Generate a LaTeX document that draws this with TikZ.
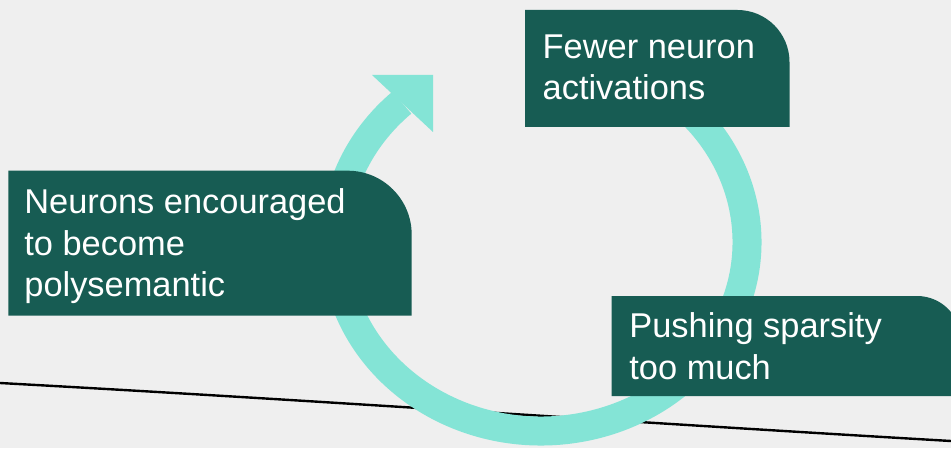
\documentclass[tikz,border=0pt]{standalone}
\usepackage{fontspec}
\setmainfont{Liberation Sans}
\usepackage{tikz}
\usetikzlibrary{positioning, calc}
\definecolor{paper}{HTML}{EFEFEF}
\definecolor{boxgreen}{HTML}{175C53}
\definecolor{ringteal}{HTML}{84E4D6}
\tikzset{box/.style={fill=boxgreen}, box text/.style={text=white, align=left, anchor=base west, inner sep=0pt, font=\fontsize{34.4}{41.5}\selectfont}, ring/.style={draw=ringteal, line width=29pt}, ground line/.style={draw=black, line width=2.4pt}}

\begin{document}
\begin{tikzpicture}[x=1pt, y=1pt]
	\fill[paper] (0,0) rectangle (951,448);
	\useasboundingbox (0,0) rectangle (951,448);
	% thin line across the bottom
	\draw[ground line] (0,65) .. controls (317,47.6) and (634,25.4) .. (951,7);
	% the loop with its head
	\coordinate (ringc) at (541,206);
	\draw[ring] ([shift={(60:206 and 189)}]ringc) arc[start angle=60, end angle=-227.5, x radius=206, y radius=189];
	\coordinate (head tip) at (433,373);
	\fill[ringteal] (372,373) -- (head tip) -- (433,316) -- cycle;
	% boxes, each with one rounded corner (text anchored on its last line)
	\fill[box] (525,321) -- (525,438) -- (737.5,438) arc[start angle=90, end angle=0, radius=52] -- (789.5,321) -- cycle;
	\node[box text] (fewer) at (542.5,348) {Fewer neuron\\activations};
	\fill[box] (8.3,132.3) -- (8.3,277.3) -- (347.7,277.3) arc[start angle=90, end angle=0, radius=64] -- (411.7,132.3) -- cycle;
	\node[box text] (poly) at (24.2,151.3) {Neurons encouraged\\to become\\polysemantic};
	\fill[box] (611.7,52) -- (611.7,152) -- (917,152) arc[start angle=90, end angle=0, radius=44] -- (961,52) -- cycle;
	\node[box text] (push) at (629.2,68.7) {Pushing sparsity\\too much};
\end{tikzpicture}
\end{document}
